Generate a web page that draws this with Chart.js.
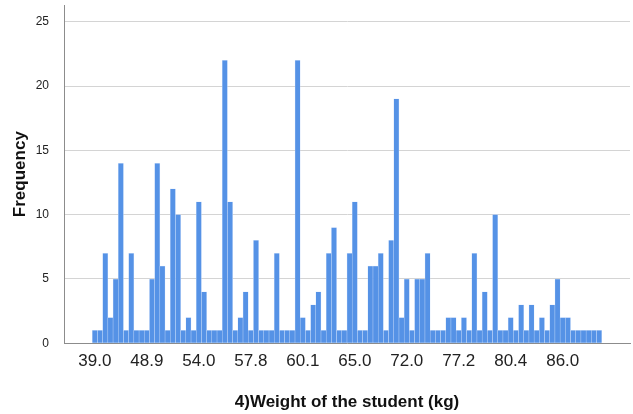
<!DOCTYPE html>
<html>
<head>
<meta charset="utf-8">
<script src="https://cdn.jsdelivr.net/npm/chart.js@4.4.1/dist/chart.umd.min.js"></script>
<style>
  html, body { margin: 0; padding: 0; background: #fff; }
  #wrap { width: 633px; height: 414px; }
</style>
</head>
<body>
<div id="wrap"><canvas id="weightChart" width="633" height="414"></canvas></div>
<script>
// frequencies per weight value, left to right (98 distinct weights)
const frequencies = [
  1, 1, 7, 2, 5, 14, 1, 7, 1, 1,
  1, 5, 14, 6, 1, 12, 10, 1, 2, 1,
  11, 4, 1, 1, 1, 22, 11, 1, 2, 4,
  1, 8, 1, 1, 1, 7, 1, 1, 1, 22,
  2, 1, 3, 4, 1, 7, 9, 1, 1, 7,
  11, 1, 1, 6, 6, 7, 1, 8, 19, 2,
  5, 1, 5, 5, 7, 1, 1, 1, 2, 2,
  1, 2, 1, 7, 1, 4, 1, 10, 1, 1,
  2, 1, 3, 1, 3, 1, 2, 1, 3, 5,
  2, 2, 1, 1, 1, 1, 1, 1
];
// only every 10th category is labelled on the axis
const tickLabels = ['39.0', '48.9', '54.0', '57.8', '60.1', '65.0', '72.0', '77.2', '80.4', '86.0'];
const labelEvery = 10;
const yTicks = [0, 5, 10, 15, 20, 25];

const FONT = '"Liberation Sans", Arial, sans-serif';

new Chart(document.getElementById('weightChart'), {
  type: 'bar',
  data: {
    datasets: [{
      label: 'Frequency',
      data: frequencies.map((v, i) => ({ x: i, y: v })),
      backgroundColor: '#5592E6',
      borderColor: 'rgba(200,220,250,0.8)',
      borderWidth: 0.5,
      barPercentage: 1,
      categoryPercentage: 1
    }]
  },
  options: {
    responsive: false,
    animation: false,
    devicePixelRatio: 1,
    layout: { padding: { top: 5, right: 3, bottom: 0, left: 0 } },
    plugins: { legend: { display: false }, tooltip: { enabled: false } },
    scales: {
      x: {
        type: 'linear',
        offset: false,
        min: -5.94,
        max: 102.94,
        afterFit: s => { s.height = 70.7; },
        grid: { display: false, drawTicks: false },
        border: { display: true, color: '#8c8c8c', width: 1 },
        ticks: {
          stepSize: labelEvery,
          includeBounds: false,
          autoSkip: false,
          maxRotation: 0,
          padding: 8,
          color: '#222',
          font: { family: FONT, size: 17 },
          callback: v => tickLabels[v / labelEvery] ?? ''
        },
        title: {
          display: true,
          text: '4)Weight of the student (kg)',
          color: '#111',
          font: { family: FONT, size: 17, weight: 'bold' },
          padding: { top: 0, bottom: 1 }
        }
      },
      y: {
        min: 0,
        max: 26.3,
        afterFit: s => { s.width = 64; },
        afterBuildTicks: s => { s.ticks = yTicks.map(v => ({ value: v })); },
        // invisible tick marks push the labels left without adding top padding
        grid: { color: '#d4d4d4', drawTicks: true, tickLength: 15, tickColor: 'rgba(0,0,0,0)' },
        border: { display: true, color: '#8c8c8c', width: 1 },
        ticks: {
          padding: 0,
          color: '#222',
          font: { family: FONT, size: 12, lineHeight: 0.8 }
        },
        title: {
          display: true,
          text: 'Frequency',
          color: '#111',
          font: { family: FONT, size: 17, weight: 'bold' },
          padding: { top: 10, bottom: 0 }
        }
      }
    }
  }
});
</script>
</body>
</html>
